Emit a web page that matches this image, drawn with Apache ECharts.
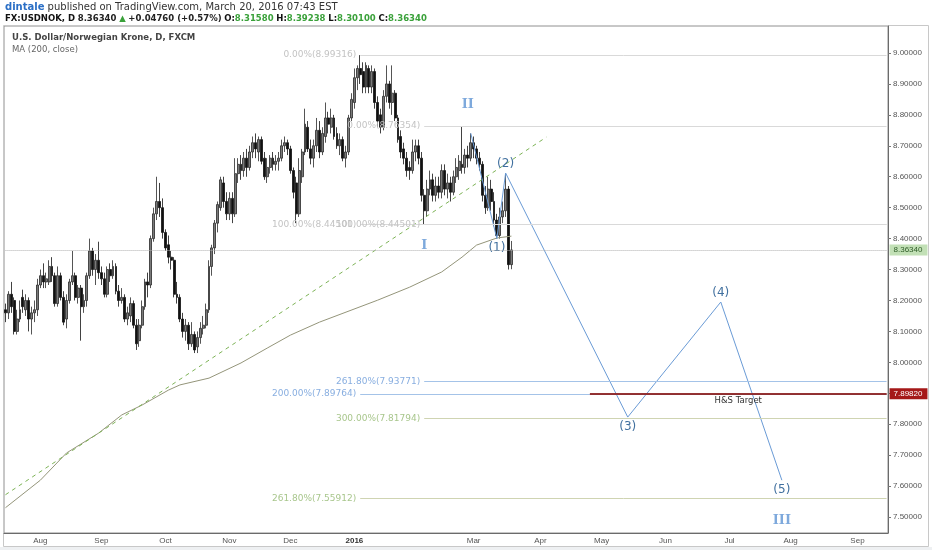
<!DOCTYPE html>
<html lang="en">
<head>
<meta charset="UTF-8">
<title>USDNOK, D</title>
<script src="https://cdn.jsdelivr.net/npm/echarts@6.0.0/dist/echarts.min.js"></script>
<style>
    html, body { margin: 0; padding: 0; background: #fff; }
    #chart { width: 932px; height: 550px; }
</style>
</head>
<body>
<div id="chart"></div>
<script type="text/javascript">
// daily candles, [open, close, low, high], one array per month
var jul15 = [
    [8.17, 8.16, 8.13, 8.19], [8.16, 8.22, 8.14, 8.23], [8.22, 8.18, 8.16, 8.26], [8.20, 8.10, 8.09, 8.21],
    [8.10, 8.14, 8.09, 8.17], [8.14, 8.17, 8.13, 8.20], [8.21, 8.18, 8.16, 8.235], [8.17, 8.20, 8.15, 8.22],
    [8.20, 8.14, 8.10, 8.21], [8.14, 8.16, 8.09, 8.18], [8.16, 8.17, 8.13, 8.20], [8.17, 8.25, 8.15, 8.27]
];
var aug15 = [
    [8.25, 8.28, 8.24, 8.30], [8.28, 8.26, 8.24, 8.32], [8.26, 8.27, 8.24, 8.29], [8.26, 8.31, 8.25, 8.33],
    [8.31, 8.28, 8.26, 8.34], [8.28, 8.19, 8.18, 8.29], [8.19, 8.28, 8.18, 8.31], [8.28, 8.21, 8.20, 8.29],
    [8.21, 8.13, 8.12, 8.23], [8.14, 8.20, 8.11, 8.22], [8.20, 8.26, 8.19, 8.27], [8.26, 8.28, 8.25, 8.36],
    [8.28, 8.21, 8.20, 8.29], [8.21, 8.24, 8.19, 8.25], [8.24, 8.18, 8.07, 8.25], [8.18, 8.20, 8.16, 8.22],
    [8.20, 8.28, 8.18, 8.29], [8.28, 8.36, 8.27, 8.40], [8.36, 8.30, 8.28, 8.37], [8.30, 8.33, 8.25, 8.35],
    [8.33, 8.29, 8.27, 8.39]
];
var sep15 = [
    [8.29, 8.27, 8.25, 8.31], [8.27, 8.22, 8.21, 8.29], [8.22, 8.30, 8.21, 8.31], [8.30, 8.28, 8.26, 8.32],
    [8.28, 8.31, 8.27, 8.33], [8.31, 8.23, 8.22, 8.32], [8.23, 8.20, 8.18, 8.25], [8.20, 8.21, 8.19, 8.24],
    [8.21, 8.14, 8.13, 8.22], [8.14, 8.16, 8.12, 8.18], [8.15, 8.19, 8.13, 8.21], [8.19, 8.12, 8.11, 8.20],
    [8.12, 8.06, 8.04, 8.14], [8.07, 8.12, 8.05, 8.14], [8.12, 8.18, 8.11, 8.20], [8.18, 8.26, 8.17, 8.27],
    [8.26, 8.25, 8.21, 8.29], [8.25, 8.40, 8.24, 8.41], [8.40, 8.48, 8.39, 8.50], [8.48, 8.52, 8.46, 8.60],
    [8.52, 8.50, 8.47, 8.58], [8.50, 8.42, 8.40, 8.53]
];
var oct15 = [
    [8.42, 8.37, 8.36, 8.43], [8.38, 8.34, 8.32, 8.41], [8.34, 8.33, 8.30, 8.36], [8.33, 8.22, 8.21, 8.34],
    [8.22, 8.21, 8.19, 8.26], [8.21, 8.14, 8.13, 8.22], [8.14, 8.10, 8.08, 8.16], [8.10, 8.12, 8.07, 8.14],
    [8.12, 8.06, 8.04, 8.13], [8.06, 8.09, 8.05, 8.13], [8.09, 8.04, 8.03, 8.10], [8.05, 8.08, 8.03, 8.10],
    [8.08, 8.11, 8.06, 8.13], [8.11, 8.12, 8.09, 8.15], [8.12, 8.17, 8.11, 8.19], [8.17, 8.31, 8.16, 8.33],
    [8.31, 8.37, 8.28, 8.38], [8.37, 8.45, 8.35, 8.46], [8.45, 8.51, 8.42, 8.52], [8.50, 8.59, 8.49, 8.60],
    [8.58, 8.52, 8.50, 8.60], [8.52, 8.48, 8.46, 8.55]
];
var nov15 = [
    [8.48, 8.53, 8.46, 8.55], [8.53, 8.48, 8.45, 8.55], [8.48, 8.61, 8.47, 8.66], [8.61, 8.64, 8.58, 8.66],
    [8.64, 8.62, 8.59, 8.67], [8.62, 8.66, 8.60, 8.68], [8.66, 8.63, 8.60, 8.69], [8.63, 8.68, 8.62, 8.70],
    [8.68, 8.71, 8.66, 8.73], [8.71, 8.69, 8.66, 8.74], [8.68, 8.72, 8.65, 8.73], [8.72, 8.65, 8.64, 8.73],
    [8.66, 8.60, 8.59, 8.68], [8.60, 8.63, 8.58, 8.66], [8.63, 8.66, 8.61, 8.67], [8.66, 8.64, 8.62, 8.68],
    [8.64, 8.65, 8.62, 8.67], [8.65, 8.66, 8.62, 8.68], [8.66, 8.70, 8.65, 8.72], [8.70, 8.71, 8.68, 8.73],
    [8.71, 8.69, 8.67, 8.72]
];
var dec15 = [
    [8.69, 8.62, 8.61, 8.70], [8.62, 8.55, 8.53, 8.63], [8.58, 8.48, 8.45, 8.60], [8.48, 8.62, 8.47, 8.66],
    [8.60, 8.68, 8.58, 8.69], [8.68, 8.77, 8.67, 8.82], [8.76, 8.69, 8.68, 8.78], [8.69, 8.66, 8.64, 8.72],
    [8.66, 8.70, 8.63, 8.72], [8.70, 8.75, 8.68, 8.79], [8.75, 8.68, 8.66, 8.78], [8.68, 8.74, 8.67, 8.76],
    [8.73, 8.79, 8.71, 8.84], [8.79, 8.77, 8.74, 8.81], [8.76, 8.79, 8.74, 8.82], [8.79, 8.73, 8.72, 8.80],
    [8.74, 8.70, 8.69, 8.76], [8.70, 8.72, 8.67, 8.74], [8.72, 8.66, 8.65, 8.73], [8.66, 8.68, 8.63, 8.70],
    [8.68, 8.79, 8.67, 8.80], [8.79, 8.85, 8.78, 8.87]
];
var jan16 = [
    [8.84, 8.92, 8.82, 8.95], [8.92, 8.95, 8.88, 8.96], [8.95, 8.93, 8.90, 8.99316], [8.94, 8.89, 8.87, 8.97],
    [8.89, 8.96, 8.87, 8.97], [8.95, 8.89, 8.87, 8.96], [8.89, 8.94, 8.87, 8.96], [8.94, 8.84, 8.82, 8.95],
    [8.84, 8.78, 8.76, 8.86], [8.80, 8.76, 8.74, 8.82], [8.76, 8.86, 8.75, 8.88], [8.86, 8.90, 8.84, 8.96],
    [8.90, 8.84, 8.82, 8.91], [8.84, 8.87, 8.80, 8.96], [8.87, 8.79, 8.78, 8.88], [8.79, 8.72, 8.71, 8.80],
    [8.73, 8.68, 8.66, 8.75], [8.69, 8.66, 8.64, 8.71], [8.66, 8.62, 8.60, 8.68], [8.63, 8.62, 8.59, 8.65]
];
var feb16 = [
    [8.62, 8.68, 8.61, 8.72], [8.68, 8.70, 8.65, 8.72], [8.70, 8.66, 8.64, 8.72], [8.66, 8.54, 8.52, 8.68],
    [8.54, 8.49, 8.44501, 8.56], [8.49, 8.56, 8.47, 8.59], [8.56, 8.59, 8.54, 8.62], [8.59, 8.54, 8.52, 8.61],
    [8.54, 8.57, 8.52, 8.60], [8.57, 8.55, 8.53, 8.60], [8.55, 8.62, 8.53, 8.64], [8.62, 8.56, 8.54, 8.64],
    [8.56, 8.58, 8.53, 8.61], [8.58, 8.55, 8.52, 8.60], [8.55, 8.60, 8.54, 8.62], [8.60, 8.63, 8.58, 8.66],
    [8.62, 8.65, 8.59, 8.67], [8.64, 8.63, 8.61, 8.76354], [8.63, 8.67, 8.61, 8.69], [8.67, 8.66, 8.63, 8.70],
    [8.66, 8.71, 8.65, 8.74]
];
var mar16 = [
    [8.71, 8.69, 8.66, 8.73], [8.69, 8.66, 8.64, 8.70], [8.66, 8.64, 8.62, 8.68], [8.64, 8.54, 8.52, 8.65],
    [8.54, 8.50, 8.48, 8.57], [8.50, 8.56, 8.49, 8.60], [8.56, 8.52, 8.49, 8.59], [8.52, 8.46, 8.44, 8.55],
    [8.46, 8.41, 8.40, 8.48], [8.41, 8.47, 8.40, 8.50], [8.47, 8.49, 8.45, 8.52], [8.49, 8.56, 8.47, 8.61],
    [8.56, 8.3158, 8.30, 8.57], [8.3158, 8.3634, 8.301, 8.39238]
];

// MA (200, close), read at a few dates
var maPoints = [
    ['2015-07-16', 7.530], ['2015-08-03', 7.619], ['2015-08-14', 7.707], ['2015-08-31', 7.771],
    ['2015-09-10', 7.830], ['2015-09-21', 7.862], ['2015-10-02', 7.910], ['2015-10-08', 7.927],
    ['2015-10-22', 7.949], ['2015-11-06', 7.998], ['2015-11-19', 8.046], ['2015-12-01', 8.088],
    ['2015-12-15', 8.130], ['2016-01-14', 8.201], ['2016-01-29', 8.243], ['2016-02-15', 8.292],
    ['2016-02-24', 8.340], ['2016-03-02', 8.379], ['2016-03-11', 8.402], ['2016-03-18', 8.408]
];
var trendPoints = [['2015-07-16', 7.572], ['2016-04-05', 8.728]];
var wavePoints = [
    ['2016-02-29', 8.741], ['2016-03-11', 8.400], ['2016-03-16', 8.612],
    ['2016-05-13', 7.823], ['2016-06-28', 8.195], ['2016-07-27', 7.619]
];
var waveNames = ['', '(1)', '(2)', '(3)', '(4)', '(5)'];
var romanNames = ['I', 'II', 'III'];
var romanPoints = [['2016-02-05', 8.376], ['2016-02-26', 8.832], ['2016-07-27', 7.487]];

var levelLabels = ['0.00%(8.99316)', '100.00%(8.44501)', '0.00%(8.76354)', '100.00%(8.44501)',
    '261.80%(7.93771)', '200.00%(7.89764)', '300.00%(7.81794)', '261.80%(7.55912)'];
var levelPrices = [8.99316, 8.44501, 8.76354, 8.44501, 7.93771, 7.89764, 7.81794, 7.55912];
var levelStarts = ['2016-01-06', '2016-01-06', '2016-02-05', '2016-02-05',
    '2016-02-05', '2016-01-06', '2016-02-05', '2016-01-06'];
var lastPrice = 8.3634;
var targetPrice = 7.8982;
var targetStart = '2016-04-26';
var priceTicks = [7.5, 7.6, 7.7, 7.8, 7.9, 8.0, 8.1, 8.2, 8.3, 8.4, 8.5, 8.6, 8.7, 8.8, 8.9, 9.0];
var holidays = ['2015-12-25', '2016-01-01'];

// trading days (weekdays) from first bar to the right edge
var days = [];
var d = new Date(Date.UTC(2015, 6, 16));
var stop = Date.UTC(2016, 8, 15);
while (d.getTime() <= stop) {
    var s = d.toISOString().slice(0, 10);
    var wd = d.getUTCDay();
    if (wd !== 0 && wd !== 6 && holidays.indexOf(s) < 0) days.push(s);
    d.setUTCDate(d.getUTCDate() + 1);
}
var firstDay = days[0], lastDay = days[days.length - 1];
var candles = [].concat(jul15, aug15, sep15, oct15, nov15, dec15, jan16, feb16, mar16);

var monthNames = ['Jan', 'Feb', 'Mar', 'Apr', 'May', 'Jun', 'Jul', 'Aug', 'Sep', 'Oct', 'Nov', 'Dec'];
function monthStart(i) {
    if (i === 0) return false;
    var m = days[i].slice(5, 7);
    return m !== days[i - 1].slice(5, 7) && m !== '02';
}

var tone = {
    gray: { line: '#d9d9d9', text: '#c3c3c3' },
    blue: { line: '#a4c3e8', text: '#88aee0' },
    green: { line: '#cfd4b2', text: '#a8c68c' }
};
var levelTone = ['gray', 'gray', 'gray', 'gray', 'blue', 'blue', 'green', 'green'];

var marks = levelPrices.map(function (p, i) {
    var t = tone[levelTone[i]];
    return [{
        coord: [levelStarts[i], p],
        lineStyle: { color: t.line, width: 1, type: 'solid' },
        label: { show: true, position: 'start', distance: 4, formatter: levelLabels[i],
            color: t.text, fontSize: 9, fontFamily: 'DejaVu Sans' }
    }, { coord: [lastDay, p] }];
});
marks.push([{
    coord: [firstDay, lastPrice],
    lineStyle: { color: '#b0b0b0', width: 1, type: 'dotted' },
    label: { show: true, position: 'end', distance: 3, formatter: lastPrice.toFixed(5),
        backgroundColor: '#c2e0b6', color: '#2f5d28', padding: [2, 5, 1, 4],
        fontSize: 8, fontFamily: 'Liberation Sans' }
}, { coord: [lastDay, lastPrice] }]);
marks.push([{
    coord: [targetStart, targetPrice],
    lineStyle: { color: '#8e2626', width: 1.5, type: 'solid' },
    label: { show: true, position: 'insideMiddleBottom', distance: 2, formatter: 'H&S Target',
        color: '#333', fontSize: 8.5, fontFamily: 'DejaVu Sans' }
}, { coord: [lastDay, targetPrice] }]);
marks.push([{
    coord: [targetStart, targetPrice],
    lineStyle: { color: '#8e2626', width: 1.5, type: 'solid' },
    label: { show: true, position: 'end', distance: 3, formatter: targetPrice.toFixed(5),
        backgroundColor: '#a51818', color: '#fff', padding: [2, 5, 1, 4],
        fontSize: 8, fontFamily: 'Liberation Sans' }
}, { coord: [lastDay, targetPrice] }]);

var waveLabelPos = ['top', 'bottom', 'top', 'bottom', 'top', 'bottom'];
var waveData = wavePoints.map(function (pt, i) {
    return {
        value: pt,
        label: { show: waveNames[i] !== '', position: waveLabelPos[i], distance: 3, formatter: waveNames[i] }
    };
});
var romanData = romanPoints.map(function (pt, i) {
    return { value: pt, label: { formatter: romanNames[i] } };
});

var chart = echarts.init(document.getElementById('chart'));
chart.setOption({
    animation: false,
    backgroundColor: '#ffffff',
    grid: { left: 4, right: 44, top: 26, bottom: 17, show: true, borderColor: '#8f8f8f', borderWidth: 1 },
    xAxis: {
        type: 'category',
        data: days,
        boundaryGap: true,
        axisLine: { lineStyle: { color: '#6b6b6b' } },
        axisTick: { alignWithLabel: true, length: 3, lineStyle: { color: '#777' },
            interval: function (i) { return monthStart(i); } },
        axisLabel: {
            interval: function (i) { return monthStart(i); },
            margin: 4, color: '#555', fontSize: 8, fontFamily: 'Liberation Sans',
            formatter: function (v) {
                var m = parseInt(v.slice(5, 7), 10) - 1;
                return m === 0 ? '{y|' + v.slice(0, 4) + '}' : monthNames[m];
            },
            rich: { y: { fontWeight: 'bold', fontSize: 8, color: '#333', fontFamily: 'Liberation Sans' } }
        },
        splitLine: { show: false }
    },
    yAxis: {
        type: 'value',
        position: 'right',
        min: 7.4483,
        max: 9.0873,
        axisLine: { show: true, lineStyle: { color: '#6b6b6b' } },
        axisTick: { show: true, length: 3, lineStyle: { color: '#777' }, customValues: priceTicks },
        axisLabel: { margin: 5, color: '#555', fontSize: 8, fontFamily: 'Liberation Sans',
            customValues: priceTicks,
            formatter: function (v) { return v.toFixed(5); } },
        splitLine: { show: false }
    },
    graphic: [
        { type: 'rect', silent: true, shape: { x: 0, y: 547, width: 932, height: 3 }, style: { fill: '#eef0f2' } },
        { type: 'rect', silent: true, shape: { x: 3.5, y: 25.5, width: 925, height: 521 },
            style: { fill: 'none', stroke: '#c8c8c8', lineWidth: 1 } },
        { type: 'text', left: 5, top: 2, silent: true, style: {
            text: '{u|dintale} published on TradingView.com, March 20, 2016 07:43 EST',
            fill: '#333', fontSize: 10, fontFamily: 'DejaVu Sans',
            rich: { u: { fill: '#2b6fc6', fontWeight: 'bold', fontSize: 10, fontFamily: 'DejaVu Sans' } } } },
        { type: 'text', left: 5, top: 14, silent: true, style: {
            text: '{k|FX:USDNOK, D} {n|8.36340} {g|▲} {n|+0.04760 (+0.57%)} {k|O:}{g|8.31580} {k|H:}{g|8.39238} {k|L:}{g|8.30100} {k|C:}{g|8.36340}',
            fill: '#222', fontSize: 8.5, fontFamily: 'DejaVu Sans',
            rich: {
                k: { fill: '#111', fontWeight: 'bold', fontSize: 8.5, fontFamily: 'DejaVu Sans' },
                n: { fill: '#222', fontWeight: 'bold', fontSize: 8.5, fontFamily: 'DejaVu Sans' },
                g: { fill: '#3aa13a', fontWeight: 'bold', fontSize: 8.5, fontFamily: 'DejaVu Sans' }
            } } },
        { type: 'text', left: 12, top: 33, silent: true, style: {
            text: 'U.S. Dollar/Norwegian Krone, D, FXCM', fill: '#444', fontWeight: 'bold',
            fontSize: 8.5, fontFamily: 'DejaVu Sans' } },
        { type: 'text', left: 12, top: 45, silent: true, style: {
            text: 'MA (200, close)', fill: '#666', fontSize: 8.5, fontFamily: 'DejaVu Sans' } }
    ],
    series: [
        {
            name: 'USDNOK',
            type: 'candlestick',
            data: candles,
            barWidth: 2.4,
            itemStyle: {
                color: '#7a7a7a', color0: '#111111',
                borderColor: '#2a2a2a', borderColor0: '#111111', borderWidth: 0.8
            },
            markLine: { silent: true, symbol: ['none', 'none'], animation: false, data: marks }
        },
        {
            name: 'MA (200, close)',
            type: 'line',
            data: maPoints,
            symbol: 'none',
            lineStyle: { color: '#94957a', width: 1 },
            z: 3
        },
        {
            name: 'trend',
            type: 'line',
            data: trendPoints,
            symbol: 'none',
            lineStyle: { color: '#7db356', width: 1, type: [4, 4] },
            z: 3
        },
        {
            name: 'waves',
            type: 'line',
            data: waveData,
            symbol: 'circle',
            symbolSize: 1,
            showSymbol: true,
            itemStyle: { color: 'rgba(0,0,0,0)' },
            lineStyle: { color: '#6a9bd6', width: 1 },
            label: { show: true, color: '#41709f', fontSize: 12, fontFamily: 'DejaVu Sans' },
            z: 4
        },
        {
            name: 'degrees',
            type: 'scatter',
            data: romanData,
            symbolSize: 1,
            itemStyle: { color: 'rgba(0,0,0,0)' },
            label: { show: true, position: 'inside', color: '#5e93d3', fontSize: 13,
                fontWeight: 'bold', fontFamily: 'DejaVu Serif' },
            z: 4
        }
    ]
});
</script>
</body>
</html>
